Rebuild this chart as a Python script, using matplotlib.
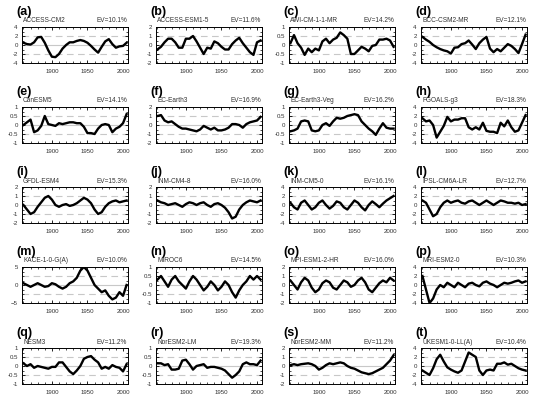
import matplotlib
matplotlib.use("Agg")
import matplotlib.pyplot as plt
import numpy as np
from matplotlib.ticker import MultipleLocator

plt.rcParams["font.family"] = ["Liberation Sans", "DejaVu Sans"]

# common time axis (5-year sampling)
years = np.arange(1860, 2006, 5)

labels = list("abcdefghijklmnopqrst")
models = [
    "ACCESS-CM2", "ACCESS-ESM1-5", "AWI-CM-1-1-MR", "BCC-CSM2-MR",
    "CanESM5", "EC-Earth3", "EC-Earth3-Veg", "FGOALS-g3",
    "GFDL-ESM4", "INM-CM4-8", "INM-CM5-0", "IPSL-CM6A-LR",
    "KACE-1-0-G(A)", "MIROC6", "MPI-ESM1-2-HR", "MRI-ESM2-0",
    "NESM3", "NorESM2-LM", "NorESM2-MM", "UKESM1-0-LL(A)",
]
ev = [10.1, 11.6, 14.2, 12.1, 14.1, 16.9, 16.2, 18.3, 15.3, 16.0,
      16.1, 12.7, 10.0, 14.5, 16.0, 10.3, 11.2, 19.3, 11.2, 10.4]
# half range of the y axis of each panel
ylim = [4, 2, 1, 4, 1, 2, 1, 4, 2, 2, 4, 4, 5, 1, 2, 4, 1, 1, 2, 4]

pc_a = [0.5, 0.2, 0.1, 0.6, 1.7, 1.8, 0.5, -1.2, -2.6, -2.7, -2.0, -0.8, 0.0, 0.6, 0.6,
        0.9, 1.1, 0.9, 0.5, -0.2, -1.0, -1.7, -0.4, 0.8, 1.3, 0.2, -0.6, -0.3, -0.2, 0.5]
pc_b = [-0.5, -0.2, 0.3, 0.7, 0.7, 0.3, -0.3, -0.3, 0.7, 0.7, 1.0, 0.4, -0.3, -1.0, -0.3,
        -0.4, 0.4, 0.2, -0.2, -0.5, -0.5, 0.1, 0.5, 0.8, 0.2, -0.3, -0.8, -1.1, 0.3, 0.5]
pc_c = [0.1, 0.55, 0.1, -0.15, -0.55, -0.2, -0.4, -0.2, -0.3, 0.2, 0.35, 0.1, 0.3, 0.4, 0.7,
        0.55, 0.35, -0.5, -0.5, -0.3, -0.1, -0.2, -0.35, -0.05, 0.0, 0.3, 0.3, 0.35, 0.25, -0.1]
pc_d = [1.8, 1.2, 0.7, 0.0, -0.5, -0.9, -1.2, -1.4, -1.9, -0.6, -0.5, 0.2, 0.4, 1.0, 0.1,
        -0.9, 0.4, 1.2, 1.8, -0.8, -1.6, -0.9, -1.4, -0.6, 0.2, -0.2, -0.9, -1.8, 0.2, 2.3]
pc_e = [0.0, 0.15, 0.3, -0.4, -0.3, -0.05, 0.5, 0.05, 0.0, -0.05, 0.1, 0.05, 0.1, 0.15, 0.15,
        0.1, 0.1, -0.1, -0.45, -0.45, -0.5, -0.2, 0.0, 0.05, 0.0, -0.4, -0.2, -0.1, 0.1, 0.6]
pc_f = [1.0, 1.1, 0.5, 0.3, 0.4, 0.1, -0.2, -0.4, -0.4, -0.5, -0.6, -0.7, -0.5, -0.1, -0.3,
        -0.5, -0.3, -0.6, -0.6, -0.5, -0.3, 0.1, 0.1, 0.0, -0.3, 0.1, 0.3, 0.4, 0.5, 0.9]
pc_g = [-0.35, -0.3, -0.2, 0.2, 0.25, 0.2, -0.3, -0.35, -0.3, 0.0, 0.1, -0.05, 0.2, 0.4, 0.35,
        0.4, 0.5, 0.55, 0.6, 0.55, 0.2, 0.0, -0.2, -0.35, -0.55, -0.2, 0.1, -0.15, -0.2, -0.2]
pc_h = [1.5, 0.8, 1.0, 0.0, -2.8, -1.5, -0.2, 1.8, 0.8, 1.2, 1.2, 1.5, 1.5, -0.5, -1.0,
        -0.5, -1.0, 0.5, -1.3, -1.5, -1.5, -1.8, 0.5, -0.3, 1.0, -0.5, -1.5, -1.2, 0.5, 2.2]
pc_i = [0.0, -0.5, -1.0, -0.8, -0.2, 0.3, 0.8, 1.0, 0.6, 0.0, -0.2, 0.0, 0.1, -0.1, 0.0,
        0.2, 0.5, 0.8, 0.6, 0.2, -0.5, -1.0, -0.8, -0.2, 0.2, 0.4, 0.5, 0.3, 0.4, 0.5]
pc_j = [0.5, 0.3, 0.2, 0.0, 0.1, 0.2, 0.0, -0.2, 0.1, 0.3, 0.2, 0.0, 0.2, 0.3, 0.0,
        -0.2, 0.1, 0.2, 0.0, -0.3, -0.8, -1.5, -1.3, -0.5, 0.0, 0.3, 0.5, 0.4, 0.3, 0.5]
pc_k = [0.5, -0.5, -1.0, 0.5, 1.0, 0.0, -1.0, -0.5, 0.5, 1.0, 0.0, -0.8, -0.2, 0.8, 0.5,
        -0.5, -1.0, 0.0, 1.0, 0.5, -0.5, -1.2, 0.0, 0.8, 0.2, -0.5, 0.3, 1.0, 1.5, 2.0]
pc_l = [1.0, 0.5, -1.0, -2.5, -2.0, -0.5, 0.5, 1.0, 0.5, 0.8, 1.0, 0.5, 0.3, 0.8, 1.0,
        0.5, 0.0, 0.5, 1.0, 0.5, 0.0, 0.5, 1.0, 0.8, 0.5, 0.5, 0.3, 0.5, 0.0, 0.2]
pc_m = [0.5, 0.0, -0.5, 0.0, 0.5, 0.0, -0.5, -0.3, 0.5, 0.2, -0.5, -1.0, -0.5, 0.5, 1.0,
        2.0, 4.0, 5.0, 4.0, 2.0, 0.0, -1.0, -2.0, -1.5, -3.0, -4.0, -3.5, -2.0, -3.0, 0.0]
pc_n = [0.3, 0.5, 0.2, -0.1, 0.3, 0.5, 0.2, 0.0, -0.2, 0.2, 0.5, 0.3, 0.0, -0.3, -0.1,
        0.2, 0.0, -0.3, -0.1, 0.2, 0.0, -0.4, -0.7, -0.3, 0.0, 0.2, 0.5, 0.3, 0.5, 0.3]
pc_o = [0.5, 0.0, -0.5, 0.3, 0.8, 0.5, -0.3, -0.8, -0.5, 0.2, 0.5, 0.3, -0.3, -0.5, 0.0,
        0.5, 0.3, -0.2, 0.0, 0.5, 0.8, 0.3, -0.5, -0.8, -0.3, 0.2, 0.5, 0.3, 0.8, 0.5]
pc_p = [2.0, -1.0, -4.0, -3.0, -1.0, 0.0, -0.5, 0.5, 0.0, -0.5, 0.5, 0.0, -0.5, 0.3, 0.5,
        0.0, -0.3, 0.5, 0.8, 0.3, 0.0, -0.5, 0.0, 0.5, 0.3, 0.5, 0.8, 1.0, 0.5, 0.8]
pc_q = [0.15, 0.0, 0.1, -0.1, 0.0, -0.05, -0.1, -0.15, -0.05, -0.05, 0.2, 0.2, -0.05, -0.3, -0.45,
        -0.25, 0.0, 0.4, 0.5, 0.55, 0.35, 0.2, -0.15, -0.05, -0.15, 0.05, -0.05, -0.1, -0.3, 0.1]
pc_r = [0.15, 0.15, 0.05, 0.1, -0.2, -0.2, -0.15, 0.3, 0.35, 0.1, -0.2, 0.0, 0.05, 0.1, -0.1,
        -0.05, -0.05, -0.1, -0.15, -0.25, -0.45, -0.65, -0.5, -0.3, 0.1, 0.2, 0.1, 0.1, 0.05, 0.3]
pc_s = [0.1, 0.2, 0.1, 0.2, 0.25, 0.3, 0.2, 0.0, -0.4, -0.2, 0.1, 0.3, 0.2, 0.3, 0.4,
        0.3, 0.0, -0.2, -0.3, -0.5, -0.7, -0.8, -0.9, -0.8, -0.6, -0.4, -0.2, 0.2, 0.6, 1.2]
pc_t = [-1.0, -1.5, -2.0, -0.5, 1.5, 2.5, 1.0, -0.3, -0.8, -1.2, -1.5, -1.0, 1.0, 3.0, 2.5,
        2.0, -1.0, -2.0, -1.0, -0.8, -1.0, 0.5, 0.5, 0.8, 0.3, 0.5, 0.0, -0.5, -0.8, -1.0]

series = [pc_a, pc_b, pc_c, pc_d, pc_e, pc_f, pc_g, pc_h, pc_i, pc_j,
          pc_k, pc_l, pc_m, pc_n, pc_o, pc_p, pc_q, pc_r, pc_s, pc_t]

W, H = 541, 404
fig = plt.figure(figsize=(W / 100, H / 100), dpi=100)

col_left = [22, 156, 289, 421]
row_top = [27, 107, 187, 267, 348]
aw, ah = 106, 36

for k in range(20):
    r, c = divmod(k, 4)
    x0 = col_left[c] / W
    y0 = 1 - (row_top[r] + ah) / H
    ax = fig.add_axes([x0, y0, aw / W, ah / H])
    lim = ylim[k]
    half = lim / 2
    ax.axhline(0, color="#c8c8c8", lw=0.8, zorder=1)
    for v in (half, -half):
        ax.axhline(v, color="#c8c8c8", lw=0.8, ls=(0, (6, 4)), zorder=1)
    ax.plot(years, series[k], color="black", lw=1.7, zorder=3)
    ax.set_xlim(1858, 2007)
    ax.set_ylim(-lim, lim)
    ax.set_xticks([1900, 1950, 2000])
    ax.xaxis.set_minor_locator(MultipleLocator(10))
    if lim == 5:
        ax.set_yticks([-5, 0, 5])
    else:
        ax.set_yticks([-lim, -half, 0, half, lim])
        ax.set_yticklabels([f"{v:g}" for v in [-lim, -half, 0, half, lim]])
    ax.yaxis.set_minor_locator(MultipleLocator(lim / 4))
    ax.tick_params(which="both", direction="in", top=True, right=True,
                   labelsize=4.4, colors="black", labelcolor="#333333")
    ax.tick_params(axis="x", pad=4)
    ax.tick_params(axis="y", pad=3)
    ax.tick_params(which="major", length=2.5, width=0.6)
    ax.tick_params(which="minor", length=1.3, width=0.5)
    for s in ax.spines.values():
        s.set_linewidth(0.7)
    ax.text(-0.05, 1.333, f"({labels[k]})", transform=ax.transAxes,
            fontsize=9, fontweight="bold", ha="left", va="baseline")
    ax.text(0.01, 1.125, models[k], transform=ax.transAxes, fontsize=4.7,
            ha="left", va="baseline", color="#333333")
    ax.text(0.99, 1.125, f"EV={ev[k]}%", transform=ax.transAxes, fontsize=4.7,
            ha="right", va="baseline", color="#333333")

fig.savefig("out.png", dpi=100)
